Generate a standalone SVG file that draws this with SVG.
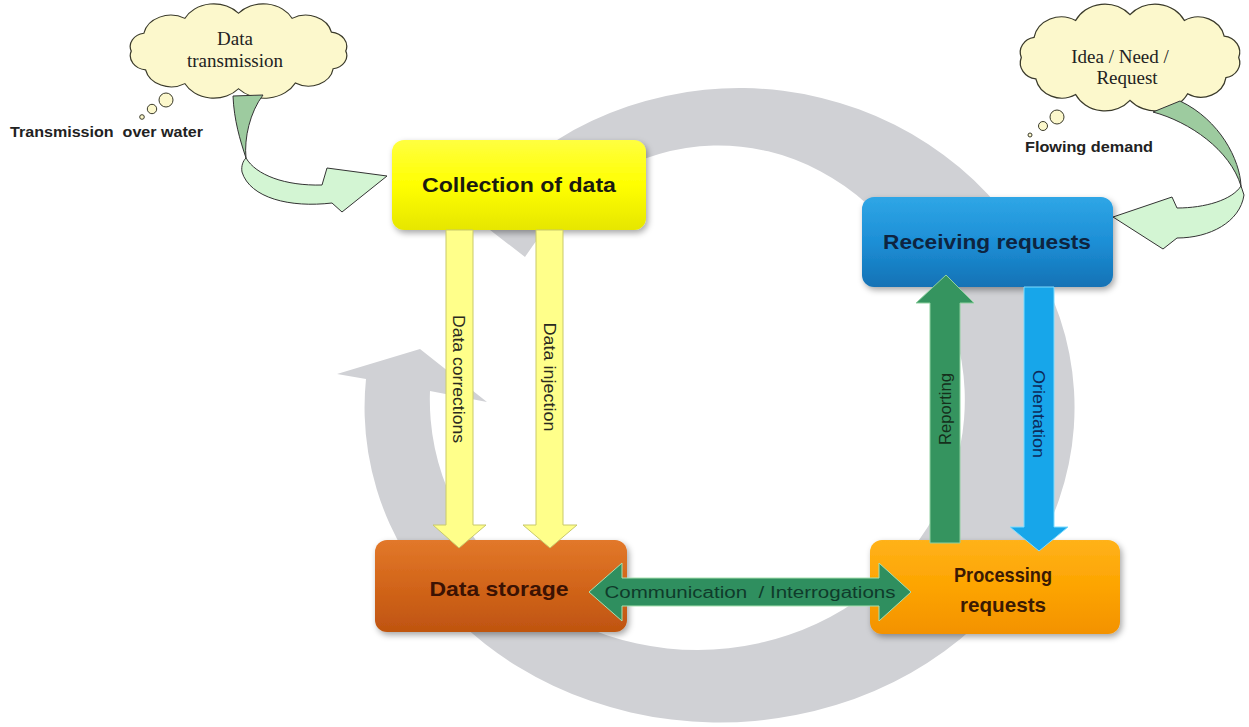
<svg xmlns="http://www.w3.org/2000/svg" width="1249" height="727" viewBox="0 0 1249 727">
  <style>
    .ring { fill: #d0d1d5; }
    .cloud { fill: #fcf8cc; stroke: #3a3a2a; stroke-width: 1; }
    .bubble { fill: #fcf8cc; stroke: #3a3a2a; stroke-width: 1; }
    .cloudtxt { font-family: "Liberation Serif", "Times New Roman", serif; font-size: 19px; fill: #222; text-anchor: middle; }
    .note { font-family: "Liberation Sans", Arial, sans-serif; font-size: 14px; font-weight: bold; fill: #222; white-space: pre; }
    .twistBack { fill: #9dcb9f; stroke: #333; stroke-width: 1; }
    .twistFront { fill: #d3f5d3; stroke: #333; stroke-width: 1; }
    .box { stroke: none; filter: url(#shadow); }
    .label { font-family: "Liberation Sans", Arial, sans-serif; font-size: 21px; font-weight: bold; text-anchor: middle; }
    .flow { font-family: "Liberation Sans", Arial, sans-serif; font-size: 16px; text-anchor: middle; white-space: pre; }
    .yellowArrow { fill: #ffff8a; stroke: #c9c96b; stroke-width: 1; }
  </style>
  <defs>
    <filter id="shadow" x="-10%" y="-15%" width="125%" height="140%">
      <feDropShadow dx="2" dy="3" stdDeviation="3" flood-color="#000" flood-opacity="0.35"/>
    </filter>
    <linearGradient id="gYellow" x1="0" y1="0" x2="0" y2="1">
      <stop offset="0" stop-color="#ffff40"/>
      <stop offset="0.5" stop-color="#ffff00"/>
      <stop offset="1" stop-color="#e6e600"/>
    </linearGradient>
    <linearGradient id="gBlue" x1="0" y1="0" x2="0" y2="1">
      <stop offset="0" stop-color="#2fa6e6"/>
      <stop offset="0.5" stop-color="#1d8fd6"/>
      <stop offset="1" stop-color="#1372b5"/>
    </linearGradient>
    <linearGradient id="gBrown" x1="0" y1="0" x2="0" y2="1">
      <stop offset="0" stop-color="#e2782a"/>
      <stop offset="0.5" stop-color="#d2651a"/>
      <stop offset="1" stop-color="#bf5410"/>
    </linearGradient>
    <linearGradient id="gOrange" x1="0" y1="0" x2="0" y2="1">
      <stop offset="0" stop-color="#ffb21a"/>
      <stop offset="0.5" stop-color="#fda400"/>
      <stop offset="1" stop-color="#f39200"/>
    </linearGradient>
    <!-- generic cloud outline in a 200 x 100 box -->
    <path id="cloudShape" d="M186,50 A13,13 0 0 1 175.9,67.4 A20,20 0 0 1 145.6,81.4 A28,28 0 0 1 100,87 A26,26 0 0 1 57,82 A21,21 0 0 1 25.5,68.5 A14,14 0 0 1 14,50 A13,13 0 0 1 24.1,32.6 A22,22 0 0 1 57,18 A26,26 0 0 1 100,13 A26,26 0 0 1 143,18 A21,21 0 0 1 174.5,31.5 A14,14 0 0 1 186,50 Z"/>
  </defs>

  <rect width="1249" height="727" fill="#ffffff"/>

  <!-- background cycle: two grey circular arrows -->
  <g id="cycle">
    <path class="ring" d="M1027,250 A355,315 0 1 1 366,379 L337,374 L420,349 L487,402 L430,391 A267.5,250 0 1 0 932,280 Z"/>
    <path class="ring" d="M472,216 A335,322 0 0 1 1012,223 L1048,214 L978,296 L880,262 L906,248 A240,273 0 0 0 525,257 Z"/>
  </g>

  <!-- thought cloud: data transmission -->
  <g id="cloud-transmission">
    <use href="#cloudShape" class="cloud" vector-effect="non-scaling-stroke" transform="translate(113.8,0) scale(1.247,1.02)"/>
    <circle class="bubble" cx="166" cy="100" r="7"/>
    <circle class="bubble" cx="152" cy="109" r="4.7"/>
    <circle class="bubble" cx="142" cy="117" r="2.3"/>
    <text class="cloudtxt" x="235" y="45">Data</text>
    <text class="cloudtxt" x="235" y="67">transmission</text>
    <text class="note" x="10" y="137" textLength="193" lengthAdjust="spacingAndGlyphs">Transmission  over water</text>
  </g>

  <!-- thought cloud: idea / need / request -->
  <g id="cloud-request">
    <use href="#cloudShape" class="cloud" vector-effect="non-scaling-stroke" transform="translate(1003.6,-0.3) scale(1.264,1.156)"/>
    <circle class="bubble" cx="1057" cy="117" r="7"/>
    <circle class="bubble" cx="1043" cy="126" r="4.5"/>
    <circle class="bubble" cx="1030" cy="135" r="2"/>
    <text class="cloudtxt" x="1120" y="63">Idea / Need /</text>
    <text class="cloudtxt" x="1127" y="84">Request</text>
    <text class="note" x="1025" y="152" textLength="128" lengthAdjust="spacingAndGlyphs">Flowing demand</text>
  </g>

  <!-- twisted entry arrows -->
  <g id="entry-arrows">
    <path class="twistFront" d="M246,158 C256,175 285,186 322,185 L327,168 L387,176 L342,212 L332,203 C290,208 250,198 242,172 C241,166 243,161 246,158 Z"/>
    <path class="twistBack" d="M233,96 L263,95 C250,112 244,138 246,158 C240,140 234,120 233,96 Z"/>
    <path class="twistFront" d="M1241,186 C1232,200 1205,208 1177,208 L1172,197 L1113,217 L1163,249 L1177,238 C1210,238 1240,222 1244,195 Z"/>
    <path class="twistBack" d="M1153,112 C1190,122 1230,150 1241,186 C1240,160 1220,120 1180,101 Z"/>
  </g>

  <!-- process nodes -->
  <g id="collection">
    <rect class="box" x="392" y="140" width="254" height="90" rx="12" fill="url(#gYellow)"/>
    <text class="label" x="519" y="192" fill="#1a1a10" textLength="194" lengthAdjust="spacingAndGlyphs">Collection of data</text>
  </g>
  <g id="receiving">
    <rect class="box" x="862" y="197" width="251" height="90" rx="12" fill="url(#gBlue)"/>
    <text class="label" x="987" y="249" fill="#0e2440" textLength="208" lengthAdjust="spacingAndGlyphs">Receiving requests</text>
  </g>
  <g id="storage">
    <rect class="box" x="375" y="540" width="252" height="92" rx="12" fill="url(#gBrown)"/>
    <text class="label" x="499" y="596" fill="#3b1203" textLength="139" lengthAdjust="spacingAndGlyphs">Data storage</text>
  </g>
  <g id="processing">
    <rect class="box" x="870" y="540" width="250" height="94" rx="12" fill="url(#gOrange)"/>
    <text class="label" x="1003" y="582" fill="#3b1a03" textLength="98" lengthAdjust="spacingAndGlyphs">Processing</text>
    <text class="label" x="1003" y="612" fill="#3b1a03" textLength="86" lengthAdjust="spacingAndGlyphs">requests</text>
  </g>

  <!-- connectors between nodes -->
  <g id="connectors">
    <polygon class="yellowArrow" points="446,230 473,230 473,525 486,525 459,548 433,525 446,525"/>
    <text class="flow" transform="translate(459,379) rotate(90)" dy="0.35em" fill="#2a2a20" textLength="128" lengthAdjust="spacingAndGlyphs">Data corrections</text>

    <polygon class="yellowArrow" points="536,230 563,230 563,525 577,525 550,548 523,525 536,525"/>
    <text class="flow" transform="translate(550,377) rotate(90)" dy="0.35em" fill="#2a2a20" textLength="109" lengthAdjust="spacingAndGlyphs">Data injection</text>

    <polygon points="930,543 960,543 960,303 974,303 946,275 916,303 930,303" fill="#35945f" stroke="#8fd0a0" stroke-width="1"/>
    <text class="flow" transform="translate(945,409) rotate(-90)" dy="0.35em" fill="#15301c" textLength="72" lengthAdjust="spacingAndGlyphs">Reporting</text>

    <polygon points="1024,287 1054,287 1054,527 1068,527 1039,551 1010,527 1024,527" fill="#17a6ea" stroke="#7fdcff" stroke-width="1"/>
    <text class="flow" transform="translate(1039,414) rotate(90)" dy="0.35em" fill="#0d2a5a" textLength="88" lengthAdjust="spacingAndGlyphs">Orientation</text>

    <polygon points="589,592 622,563 622,578 879,578 879,563 911,592 879,621 879,606 622,606 622,621" fill="#2f8f5f" stroke="#a8e0b0" stroke-width="1"/>
    <text class="flow" x="750" y="598" fill="#0f3b2b" textLength="291" lengthAdjust="spacingAndGlyphs">Communication  / Interrogations</text>
  </g>
</svg>
